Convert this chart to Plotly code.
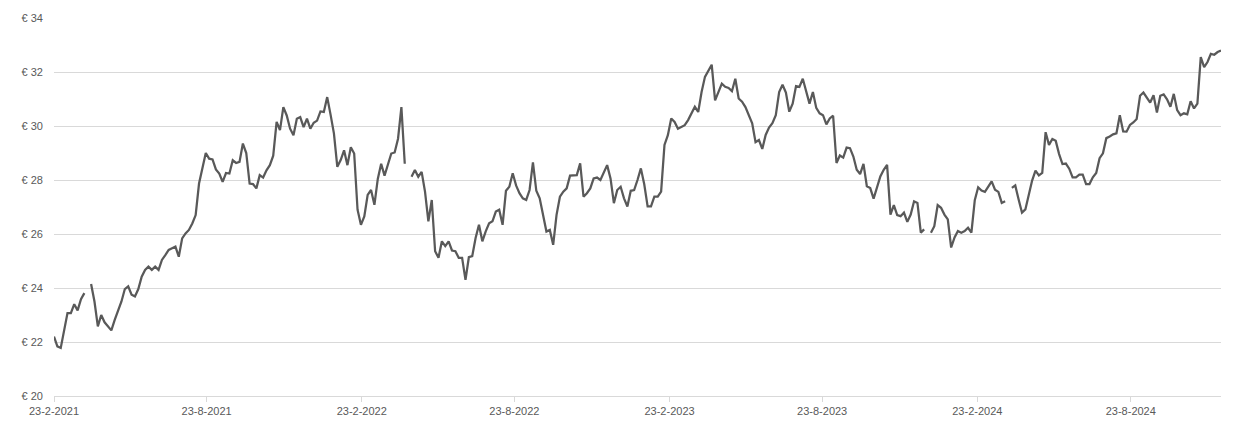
import plotly.graph_objects as go
import pandas as pd

start_date = "2021-02-23"
step = "4D"
prices = [
    22.2, 21.84, 21.78, 22.5, 23.07, 23.07, 23.4, 23.17, 23.59, 23.81,
    None, 24.15, 23.5, 22.58, 23.0, 22.73, 22.58, 22.43, 22.82, 23.19,
    23.5, 23.96, 24.06, 23.75, 23.69, 23.96, 24.42, 24.67, 24.79, 24.67,
    24.79, 24.67, 25.04, 25.22, 25.41, 25.47, 25.53, 25.16, 25.84, 26.02,
    26.15, 26.39, 26.7, 27.87, 28.42, 29.0, 28.79, 28.76, 28.39, 28.24,
    27.93, 28.26, 28.24, 28.73, 28.63, 28.67, 29.35, 29.0, 27.87, 27.85,
    27.69, 28.18, 28.09, 28.36, 28.55, 28.9, 30.15, 29.85, 30.7, 30.39,
    29.9, 29.66, 30.27, 30.33, 29.96, 30.27, 29.9, 30.12, 30.2, 30.54,
    30.52, 31.07, 30.42, 29.72, 28.49, 28.74, 29.1, 28.55, 29.21, 28.98,
    26.9, 26.34, 26.65, 27.45, 27.63, 27.08, 28.04, 28.6, 28.16, 28.53,
    28.98, 29.02, 29.53, 30.7, 28.6, None, 28.12, 28.37, 28.12, 28.3,
    27.57, 26.47, 27.26, 25.36, 25.12, 25.73, 25.55, 25.73, 25.39, 25.36,
    25.12, 25.12, 24.3, 25.14, 25.18, 25.85, 26.34, 25.73, 26.1, 26.4,
    26.47, 26.83, 26.9, 26.34, 27.6, 27.75, 28.25, 27.8, 27.51, 27.32,
    27.26, 27.63, 28.65, 27.6, 27.32, 26.73, 26.09, 26.15, 25.6, 26.71,
    27.38, 27.57, 27.69, 28.16, 28.16, 28.18, 28.62, 27.38, 27.51, 27.69,
    28.06, 28.09, 28.0, 28.25, 28.55, 28.06, 27.14, 27.63, 27.75, 27.32,
    27.02, 27.6, 27.63, 28.0, 28.43, 27.84, 27.02, 27.02, 27.38, 27.38,
    27.57, 29.3, 29.66, 30.28, 30.15, 29.9, 29.97, 30.03, 30.22, 30.46,
    30.71, 30.52, 31.26, 31.82, 32.06, 32.27, 30.95, 31.26, 31.57, 31.45,
    31.41, 31.29, 31.75, 31.02, 30.9, 30.7, 30.43, 30.1, 29.4, 29.48,
    29.15, 29.67, 29.94, 30.1, 30.4, 31.26, 31.53, 31.24, 30.53, 30.83,
    31.48, 31.45, 31.75, 31.33, 30.83, 31.26, 30.67, 30.47, 30.4, 30.06,
    30.28, 30.38, 28.63, 28.91, 28.83, 29.2, 29.18, 28.87, 28.38, 28.22,
    28.6, 27.77, 27.7, 27.31, 27.77, 28.13, 28.38, 28.56, 26.72, 27.07,
    26.7, 26.66, 26.79, 26.45, 26.72, 27.21, 27.15, 26.05, 26.17, None,
    26.05, 26.29, 27.07, 26.97, 26.72, 26.54, 25.5, 25.87, 26.11, 26.05,
    26.11, 26.23, 26.05, 27.25, 27.73, 27.61, 27.56, 27.74, 27.95, 27.64,
    27.56, 27.15, 27.21, None, 27.71, 27.8, 27.28, 26.79, 26.91, 27.48,
    27.98, 28.35, 28.17, 28.26, 29.77, 29.3, 29.52, 29.45, 28.96, 28.59,
    28.61, 28.42, 28.1, 28.1, 28.2, 28.2, 27.85, 27.85, 28.1, 28.26,
    28.81, 28.99, 29.55, 29.61, 29.69, 29.73, 30.4, 29.8, 29.79, 30.04,
    30.13, 30.26, 31.12, 31.24, 31.04, 30.87, 31.14, 30.5, 31.12, 31.17,
    30.99, 30.71, 31.19, 30.59, 30.4, 30.47, 30.43, 30.92, 30.65, 30.83,
    32.55, 32.18, 32.37, 32.67, 32.64, 32.74, 32.8,
]
dates = pd.date_range(start_date, periods=len(prices), freq=step)

tick_dates = ["2021-02-23", "2021-08-23", "2022-02-23", "2022-08-23",
              "2023-02-23", "2023-08-23", "2024-02-23", "2024-08-23"]
tick_labels = ["23-2-2021", "23-8-2021", "23-2-2022", "23-8-2022",
               "23-2-2023", "23-8-2023", "23-2-2024", "23-8-2024"]

grey = "#595959"
grid = "#d9d9d9"

fig = go.Figure(go.Scatter(x=dates, y=prices, mode="lines",
                           line=dict(color=grey, width=2.25),
                           connectgaps=False,
                           hovertemplate="%{x|%d-%m-%Y}<br>€ %{y:.2f}<extra></extra>"))

fig.update_layout(width=1239, height=429,
                  margin=dict(l=54, r=18, t=18, b=31),
                  paper_bgcolor="white", plot_bgcolor="white",
                  showlegend=False,
                  font=dict(family="Liberation Sans, Arial, sans-serif", size=11, color=grey),
                  xaxis=dict(type="date", range=[dates[0], dates[-1]],
                             tickvals=tick_dates, ticktext=tick_labels,
                             showgrid=False, showline=True, linecolor=grid, linewidth=1,
                             ticks="outside", ticklen=5, tickcolor=grid,
                             zeroline=False),
                  yaxis=dict(range=[20, 34], dtick=2, tickprefix="€ ",
                             showgrid=True, gridcolor=grid, gridwidth=1,
                             zeroline=False, showline=False,
                             ticklabelstandoff=10))

# body-marge weg zodat de figuur precies in het venster valt
fig.write_html("out.html",
               config={"displayModeBar": False},
               post_script="document.body.style.margin='0';document.body.style.overflow='hidden';")
